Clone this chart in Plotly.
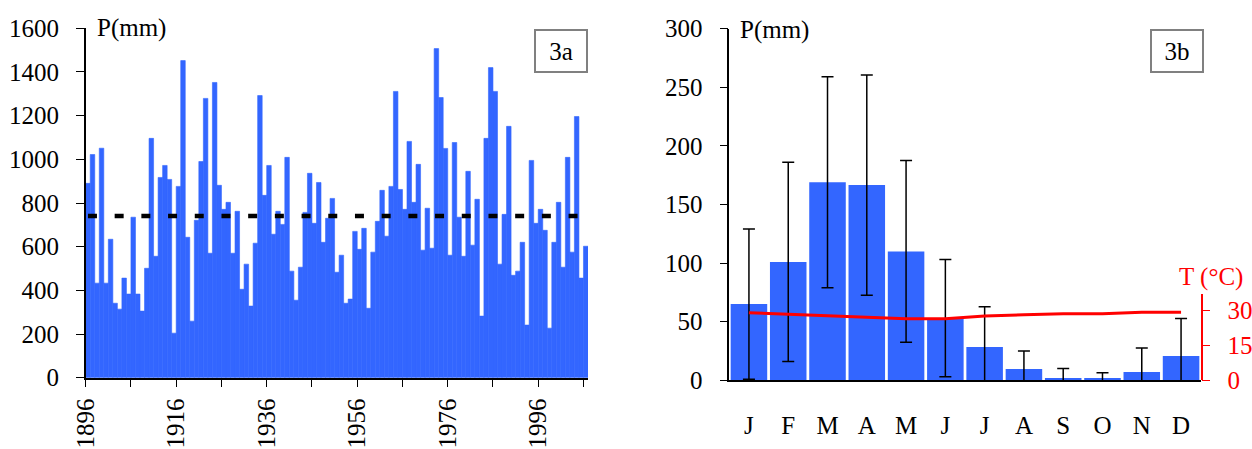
import plotly.graph_objects as go

# ---------------- data ----------------
years = list(range(1896, 2007))
annual_p = [890, 1022, 433, 1051, 433, 634, 341, 314, 456, 383, 735, 383, 305, 501, 1096,
            556, 917, 972, 908, 204, 876, 1452, 643, 259, 721, 990, 1279, 570, 1352,
            881, 771, 803, 570, 762, 405, 520, 328, 616, 1292, 835, 972, 657, 762, 702,
            1009, 488, 355, 506, 757, 936, 707, 894, 620, 730, 821, 483, 561,
            341, 360, 670, 588, 684, 318, 575, 716, 858, 648, 876, 1311, 862, 771, 1082,
            803, 977, 584, 776, 593, 1507, 1283, 1050, 561, 1077, 735, 556,
            945, 607, 817, 282, 1096, 1420, 1311, 520, 748, 1151, 469, 488, 620, 241, 995,
            707, 771, 675, 227, 620, 803, 506, 1009, 575, 1196, 456, 602]
mean_p = 740

year_ticks = list(range(1896, 2007, 10))
year_tick_text = ["1896", "", "1916", "", "1936", "", "1956", "", "1976", "", "1996", ""]

months = ["J", "F", "M", "A", "M", "J", "J", "A", "S", "O", "N", "D"]
monthly_p = [65, 101, 169, 166.6, 110, 53, 28.4, 9.6, 2, 2, 7.1, 20.7]
monthly_p_sd = [64, 85, 90, 94, 77.5, 50, 34.4, 15.4, 8, 4.5, 20.5, 32]
monthly_t = [28.8, 28.2, 27.4, 27.0, 26.3, 26.3, 27.4, 28.0, 28.4, 28.4, 29.0, 29.0]

# ---------------- styling ----------------
W, H = 1252, 449
FONT = "Liberation Serif"
FS = 25
BLUE = "#3366FF"
RED = "#FF0000"

def fx(px):
    return px / W

def fy(py):
    return 1 - py / H

fig = go.Figure()

# Left panel: annual precipitation
fig.add_trace(go.Bar(x=years, y=annual_p, marker=dict(color=BLUE, line=dict(width=0.6, color=BLUE)),
                     width=1.0, xaxis="x", yaxis="y", showlegend=False))
fig.add_trace(go.Scatter(x=[years[0], years[-1]], y=[mean_p, mean_p], mode="lines",
                         line=dict(color="black", width=4.5, dash="9px,17.7px"),
                         xaxis="x", yaxis="y", showlegend=False))

# Right panel: monthly precipitation with error bars + temperature
mx = list(range(len(months)))
fig.add_trace(go.Bar(x=mx, y=monthly_p, marker=dict(color=BLUE, line=dict(width=0)),
                     error_y=dict(type="data", array=monthly_p_sd, visible=True,
                                  color="black", thickness=1.5, width=6),
                     xaxis="x2", yaxis="y2", showlegend=False))
fig.add_trace(go.Scatter(x=mx, y=monthly_t, mode="lines", line=dict(color=RED, width=3),
                         xaxis="x2", yaxis="y3", showlegend=False))

fig.update_layout(
    width=W, height=H,
    margin=dict(l=0, r=0, t=0, b=0, autoexpand=False),
    paper_bgcolor="white", plot_bgcolor="rgba(0,0,0,0)",
    font=dict(family=FONT, size=FS, color="black"),
    bargap=0.07,
    xaxis=dict(domain=[fx(85.7), fx(588)], range=[1895.5, 2006.5],
               tickmode="array", tickvals=[y - 0.5 for y in year_ticks], ticktext=year_tick_text,
               tickangle=-90, ticks="outside", ticklen=8, tickcolor="black", tickwidth=1,
               showline=True, linecolor="black", linewidth=1.5, showgrid=False, zeroline=False,
               anchor="y", ticklabelstandoff=1, automargin=False),
    yaxis=dict(domain=[fy(377.7), fy(28.3)], range=[0, 1600], tickvals=list(range(0, 1601, 200)),
               ticks="outside", ticklen=8, tickcolor="black", showline=True, linecolor="black",
               linewidth=1.5, showgrid=False, zeroline=False, anchor="x", ticklabelstandoff=12,
               automargin=False),
    xaxis2=dict(domain=[fx(729.3), fx(1200.7)], range=[-0.5, 11.5], tickmode="array",
                tickvals=mx, ticktext=months, ticks="", showline=True, linecolor="black",
                linewidth=1.5, showgrid=False, zeroline=False, anchor="y2", ticklabelstandoff=22,
                automargin=False),
    yaxis2=dict(domain=[fy(380.3), fy(28.7)], range=[0, 300], tickvals=list(range(0, 301, 50)),
                ticks="outside", ticklen=8, tickcolor="black", showline=True, linecolor="black",
                linewidth=1.5, showgrid=False, zeroline=False, anchor="x2", ticklabelstandoff=12,
                automargin=False),
    yaxis3=dict(domain=[fy(380.3), fy(294.3)], range=[0, 36.7], tickvals=[0, 15, 30],
                side="right", anchor="x2", ticks="outside", ticklen=8, tickcolor=RED,
                showline=True, linecolor=RED, linewidth=1.5, showgrid=False, zeroline=False,
                tickfont=dict(color=RED), ticklabelstandoff=12, automargin=False),
)

annotations = [
    dict(text="P(mm)", x=fx(95), y=fy(28), xanchor="left", yanchor="middle", showarrow=False),
    dict(text="P(mm)", x=fx(738), y=fy(30), xanchor="left", yanchor="middle", showarrow=False),
    dict(text="T (°C)", x=fx(1211), y=fy(277), xanchor="center", yanchor="middle",
         showarrow=False, font=dict(color=RED)),
    dict(text="3a", x=fx(561), y=fy(51), xanchor="center", yanchor="middle", showarrow=False,
         width=50, height=40, bordercolor="#808080", borderwidth=2, borderpad=0, bgcolor="white"),
    dict(text="3b", x=fx(1177), y=fy(51), xanchor="center", yanchor="middle", showarrow=False,
         width=50, height=40, bordercolor="#808080", borderwidth=2, borderpad=0, bgcolor="white"),
]
for a in annotations:
    a["xref"] = "paper"
    a["yref"] = "paper"
fig.update_layout(annotations=annotations)

fig.write_html("out.html",
               config={"displayModeBar": False},
               post_script="document.body.style.margin='0';document.body.style.overflow='hidden';")
